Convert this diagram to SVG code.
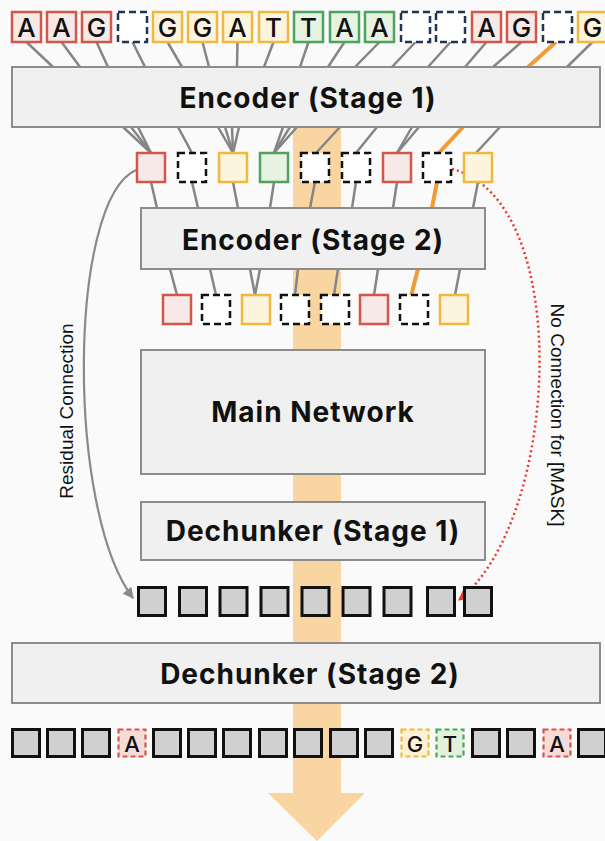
<svg xmlns="http://www.w3.org/2000/svg" width="605" height="841" viewBox="0 0 605 841">
  <defs>
    <style>
      .bg { fill: #fafafa; }
      .block { fill: #f0f0f0; stroke: #8c8c8c; stroke-width: 2; }
      .block-label { font-family: Inter, "Noto Sans", "DejaVu Sans", sans-serif; font-weight: 700; font-size: 28px; letter-spacing: 1px; fill: #111; text-anchor: middle; dominant-baseline: central; }
      .tok-label { font-family: Inter, "Noto Sans", "Liberation Sans", sans-serif; font-weight: 500; font-size: 26px; fill: #111; text-anchor: middle; dominant-baseline: central; }
      .tok-label-sm { font-family: Inter, "Noto Sans", "Liberation Sans", sans-serif; font-weight: 500; font-size: 22px; fill: #111; text-anchor: middle; dominant-baseline: central; }
      .side-label { font-family: "Liberation Sans", Arial, sans-serif; font-size: 19px; fill: #111; text-anchor: middle; dominant-baseline: central; }
      .red { fill: #f6e9e7; stroke: #d2574a; stroke-width: 2.5; }
      .yel { fill: #fdf4de; stroke: #f0b93e; stroke-width: 2.5; }
      .grn { fill: #e7f3e1; stroke: #4ea35e; stroke-width: 2.5; }
      .mask-top { fill: #ffffff; stroke: #1f3552; stroke-width: 2.5; stroke-dasharray: 7 4; }
      .mask { fill: #ffffff; stroke: #111; stroke-width: 2.5; stroke-dasharray: 7 4; }
      .gray { fill: #d0d0d0; stroke: #111; stroke-width: 3; }
      .red-d { fill: #f6dcd8; stroke: #d9534a; stroke-width: 2.2; stroke-dasharray: 5 3; }
      .yel-d { fill: #fdf1d2; stroke: #f0b93e; stroke-width: 2.2; stroke-dasharray: 5 3; }
      .grn-d { fill: #e3f1dc; stroke: #4ea35e; stroke-width: 2.2; stroke-dasharray: 5 3; }
      .link { stroke: #858585; stroke-width: 2.5; fill: none; }
      .link-hot { stroke: #f29a33; stroke-width: 4; fill: none; }
      .residual { stroke: #8a8a8a; stroke-width: 2.2; fill: none; }
      .nolink { stroke: #e8382c; stroke-width: 2.5; fill: none; stroke-dasharray: 2 3; }
    </style>
    <marker id="arrow-gray" viewBox="0 0 10 10" refX="9" refY="5" markerWidth="5" markerHeight="5" orient="auto">
      <path d="M0,0 L10,5 L0,10 Z" fill="#8a8a8a"/>
    </marker>
    <marker id="arrow-red" viewBox="0 0 10 10" refX="9" refY="5" markerWidth="5" markerHeight="5" orient="auto">
      <path d="M0,0 L10,5 L0,10 Z" fill="#e8382c"/>
    </marker>
  </defs>

  <rect class="bg" x="0" y="0" width="605" height="841"/>

  <!-- information flow column with arrow head -->
  <polygon id="flow" points="293,127 341,127 341,793 365,793 317,841 268,793 293,793" fill="#f9d6a1"/>

  <!-- connectors -->
  <g id="connectors">
    <!-- input tokens to encoder stage 1 -->
    <line class="link" x1="26.5" y1="42" x2="53" y2="67"/>
    <line class="link" x1="61.5" y1="42" x2="80" y2="67"/>
    <line class="link" x1="96.5" y1="42" x2="108" y2="67"/>
    <line class="link" x1="132.5" y1="42" x2="145" y2="67"/>
    <line class="link" x1="167.5" y1="42" x2="182" y2="67"/>
    <line class="link" x1="202.5" y1="42" x2="209" y2="67"/>
    <line class="link" x1="237.5" y1="42" x2="237" y2="67"/>
    <line class="link" x1="273.5" y1="42" x2="264" y2="67"/>
    <line class="link" x1="308.5" y1="42" x2="300" y2="67"/>
    <line class="link" x1="344.5" y1="42" x2="328" y2="67"/>
    <line class="link" x1="379.5" y1="42" x2="355" y2="67"/>
    <line class="link" x1="415.5" y1="42" x2="392" y2="67"/>
    <line class="link" x1="450.5" y1="42" x2="428" y2="67"/>
    <line class="link" x1="486.5" y1="42" x2="465" y2="67"/>
    <line class="link" x1="521.5" y1="42" x2="493" y2="67"/>
    <line class="link-hot" x1="556" y1="42" x2="528" y2="67"/>
    <line class="link" x1="592.5" y1="42" x2="567" y2="67"/>

    <!-- encoder stage 1 to stage 1 chunks -->
    <line class="link" x1="123" y1="127" x2="151" y2="153"/>
    <line class="link" x1="131" y1="127" x2="151" y2="153"/>
    <line class="link" x1="138" y1="127" x2="151" y2="153"/>
    <line class="link" x1="178" y1="127" x2="192" y2="153"/>
    <line class="link" x1="218" y1="127" x2="233" y2="153"/>
    <line class="link" x1="225" y1="127" x2="233" y2="153"/>
    <line class="link" x1="232" y1="127" x2="233" y2="153"/>
    <line class="link" x1="239" y1="127" x2="233" y2="153"/>
    <line class="link" x1="283" y1="127" x2="274" y2="153"/>
    <line class="link" x1="290" y1="127" x2="274" y2="153"/>
    <line class="link" x1="297" y1="127" x2="274" y2="153"/>
    <line class="link" x1="340" y1="127" x2="316" y2="153"/>
    <line class="link" x1="377" y1="127" x2="356" y2="153"/>
    <line class="link" x1="412" y1="127" x2="397" y2="153"/>
    <line class="link" x1="419" y1="127" x2="397" y2="153"/>
    <line class="link-hot" x1="463" y1="127" x2="437" y2="155"/>
    <line class="link" x1="500" y1="127" x2="476" y2="153"/>

    <!-- stage 1 chunks to encoder stage 2 -->
    <line class="link" x1="151" y1="182" x2="157" y2="208"/>
    <line class="link" x1="192" y1="182" x2="198" y2="208"/>
    <line class="link" x1="233" y1="182" x2="238" y2="208"/>
    <line class="link" x1="274" y1="182" x2="270" y2="208"/>
    <line class="link" x1="315" y1="182" x2="310" y2="208"/>
    <line class="link" x1="356" y1="182" x2="352" y2="208"/>
    <line class="link" x1="397" y1="182" x2="393" y2="208"/>
    <line class="link-hot" x1="437" y1="182" x2="432" y2="208"/>
    <line class="link" x1="478" y1="182" x2="473" y2="208"/>

    <!-- encoder stage 2 to stage 2 chunks -->
    <line class="link" x1="170" y1="269" x2="177" y2="295"/>
    <line class="link" x1="210" y1="269" x2="216" y2="295"/>
    <line class="link" x1="250" y1="269" x2="255" y2="295"/>
    <line class="link" x1="260" y1="269" x2="255" y2="295"/>
    <line class="link" x1="298" y1="269" x2="295" y2="295"/>
    <line class="link" x1="338" y1="269" x2="334" y2="295"/>
    <line class="link" x1="378" y1="269" x2="374" y2="295"/>
    <line class="link-hot" x1="418" y1="269" x2="411" y2="296"/>
    <line class="link" x1="460" y1="269" x2="455" y2="295"/>

    <!-- residual and masked paths -->
    <path class="residual" d="M136,170 C68,200 66,510 133,598" marker-end="url(#arrow-gray)"/>
    <path class="nolink" d="M452,169 C575,200 560,520 459,600" marker-end="url(#arrow-red)"/>
  </g>

  <!-- input tokens -->
  <g id="input-tokens">
    <rect class="red" x="12" y="12" width="29" height="30"/><text class="tok-label" x="26.5" y="27.5">A</text>
    <rect class="red" x="47" y="12" width="29" height="30"/><text class="tok-label" x="61.5" y="27.5">A</text>
    <rect class="red" x="82" y="12" width="29" height="30"/><text class="tok-label" x="96.5" y="27.5">G</text>
    <rect class="mask-top" x="118" y="12" width="29" height="30"/>
    <rect class="yel" x="153" y="12" width="29" height="30"/><text class="tok-label" x="167.5" y="27.5">G</text>
    <rect class="yel" x="188" y="12" width="29" height="30"/><text class="tok-label" x="202.5" y="27.5">G</text>
    <rect class="yel" x="223" y="12" width="29" height="30"/><text class="tok-label" x="237.5" y="27.5">A</text>
    <rect class="yel" x="259" y="12" width="29" height="30"/><text class="tok-label" x="273.5" y="27.5">T</text>
    <rect class="grn" x="294" y="12" width="29" height="30"/><text class="tok-label" x="308.5" y="27.5">T</text>
    <rect class="grn" x="330" y="12" width="29" height="30"/><text class="tok-label" x="344.5" y="27.5">A</text>
    <rect class="grn" x="365" y="12" width="29" height="30"/><text class="tok-label" x="379.5" y="27.5">A</text>
    <rect class="mask-top" x="401" y="12" width="29" height="30"/>
    <rect class="mask-top" x="436" y="12" width="29" height="30"/>
    <rect class="red" x="472" y="12" width="29" height="30"/><text class="tok-label" x="486.5" y="27.5">A</text>
    <rect class="red" x="507" y="12" width="29" height="30"/><text class="tok-label" x="521.5" y="27.5">G</text>
    <rect class="mask-top" x="543" y="12" width="29" height="30"/>
    <rect class="yel" x="578" y="12" width="29" height="30"/><text class="tok-label" x="592.5" y="27.5">G</text>
  </g>

  <g id="encoder-stage1">
    <rect class="block" x="12" y="67" width="588" height="60"/>
    <text class="block-label" x="308" y="98">Encoder (Stage 1)</text>
  </g>

  <!-- chunks after stage 1 -->
  <g id="chunks-stage1">
    <rect class="red" x="137" y="153" width="28" height="29"/>
    <rect class="mask" x="178" y="153" width="28" height="29"/>
    <rect class="yel" x="219" y="153" width="28" height="29"/>
    <rect class="grn" x="260" y="153" width="28" height="29"/>
    <rect class="mask" x="301" y="153" width="28" height="29"/>
    <rect class="mask" x="342" y="153" width="28" height="29"/>
    <rect class="red" x="383" y="153" width="28" height="29"/>
    <rect class="mask" x="423" y="153" width="28" height="29"/>
    <rect class="yel" x="464" y="153" width="28" height="29"/>
  </g>

  <g id="encoder-stage2">
    <rect class="block" x="141" y="208" width="344" height="61"/>
    <text class="block-label" x="313" y="240">Encoder (Stage 2)</text>
  </g>

  <!-- chunks after stage 2 -->
  <g id="chunks-stage2">
    <rect class="red" x="163" y="295" width="28" height="29"/>
    <rect class="mask" x="202" y="295" width="28" height="29"/>
    <rect class="yel" x="242" y="295" width="28" height="29"/>
    <rect class="mask" x="281" y="295" width="28" height="29"/>
    <rect class="mask" x="321" y="295" width="28" height="29"/>
    <rect class="red" x="360" y="295" width="28" height="29"/>
    <rect class="mask" x="400" y="295" width="28" height="29"/>
    <rect class="yel" x="440" y="295" width="28" height="29"/>
  </g>

  <g id="main-network">
    <rect class="block" x="141" y="350" width="344" height="124"/>
    <text class="block-label" x="313" y="412">Main Network</text>
  </g>

  <g id="dechunker-stage1">
    <rect class="block" x="141" y="502" width="344" height="58"/>
    <text class="block-label" x="313" y="531">Dechunker (Stage 1)</text>
  </g>

  <!-- outputs of dechunker stage 1 -->
  <g id="dechunked-stage1">
    <rect class="gray" x="138.5" y="587.5" width="27" height="28"/>
    <rect class="gray" x="179.5" y="587.5" width="27" height="28"/>
    <rect class="gray" x="220" y="587.5" width="27" height="28"/>
    <rect class="gray" x="261" y="587.5" width="27" height="28"/>
    <rect class="gray" x="302" y="587.5" width="27" height="28"/>
    <rect class="gray" x="343" y="587.5" width="27" height="28"/>
    <rect class="gray" x="384" y="587.5" width="27" height="28"/>
    <rect class="gray" x="427.5" y="587.5" width="27" height="28"/>
    <rect class="gray" x="464.5" y="587.5" width="27" height="28"/>
  </g>

  <g id="dechunker-stage2">
    <rect class="block" x="12" y="643" width="588" height="60"/>
    <text class="block-label" x="310" y="674">Dechunker (Stage 2)</text>
  </g>

  <!-- reconstructed output tokens -->
  <g id="output-tokens">
    <rect class="gray" x="12.5" y="729.5" width="27" height="27"/>
    <rect class="gray" x="47.5" y="729.5" width="27" height="27"/>
    <rect class="gray" x="82.5" y="729.5" width="27" height="27"/>
    <rect class="red-d" x="118.5" y="729.5" width="27" height="27"/><text class="tok-label-sm" x="132" y="743.5">A</text>
    <rect class="gray" x="153.5" y="729.5" width="27" height="27"/>
    <rect class="gray" x="188.5" y="729.5" width="27" height="27"/>
    <rect class="gray" x="223.5" y="729.5" width="27" height="27"/>
    <rect class="gray" x="259.5" y="729.5" width="27" height="27"/>
    <rect class="gray" x="294.5" y="729.5" width="27" height="27"/>
    <rect class="gray" x="330.5" y="729.5" width="27" height="27"/>
    <rect class="gray" x="365.5" y="729.5" width="27" height="27"/>
    <rect class="yel-d" x="401.5" y="729.5" width="27" height="27"/><text class="tok-label-sm" x="415" y="743.5">G</text>
    <rect class="grn-d" x="436.5" y="729.5" width="27" height="27"/><text class="tok-label-sm" x="450" y="743.5">T</text>
    <rect class="gray" x="472.5" y="729.5" width="27" height="27"/>
    <rect class="gray" x="507.5" y="729.5" width="27" height="27"/>
    <rect class="red-d" x="543.5" y="729.5" width="27" height="27"/><text class="tok-label-sm" x="557" y="743.5">A</text>
    <rect class="gray" x="578.5" y="729.5" width="27" height="27"/>
  </g>

  <!-- side annotations -->
  <text class="side-label" transform="translate(66,411) rotate(-90)">Residual Connection</text>
  <text class="side-label" transform="translate(557,415) rotate(90)">No Connection for [MASK]</text>
</svg>
